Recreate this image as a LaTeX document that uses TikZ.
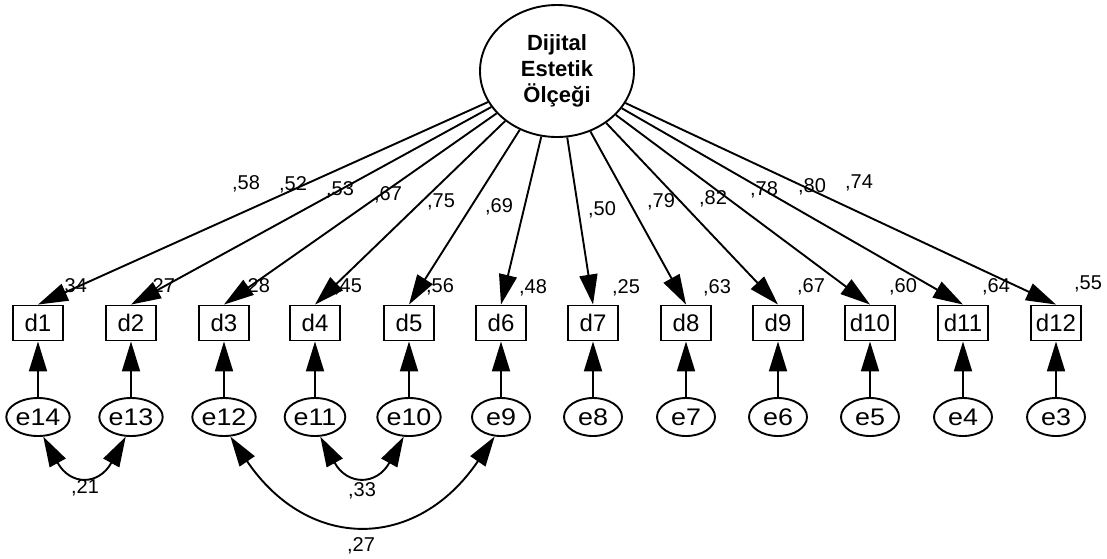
\documentclass[tikz,border=0pt]{standalone}
\usepackage{fontspec}
\setmainfont{Liberation Sans}
\usetikzlibrary{shapes.geometric,arrows.meta}
\begin{document}
\begin{tikzpicture}[x=1pt,y=-1pt,
  obs/.style={draw,line width=1.9pt,minimum width=50pt,minimum height=35pt,inner sep=3pt,font=\fontsize{24}{24}\selectfont},
  err/.style={draw,ellipse,line width=1.9pt,minimum width=58pt,minimum height=38pt,inner sep=0pt,font=\fontsize{24}{24}\selectfont},
  lat/.style={draw,ellipse,line width=1.9pt,minimum width=154pt,minimum height=132pt,inner sep=0pt,align=center,font=\fontsize{22}{26}\selectfont\bfseries},
  reg/.style={line width=1.9pt,-{Triangle[length=30pt,width=18pt]}},
  cov/.style={line width=1.9pt,{Triangle[length=30pt,width=18pt]}-{Triangle[length=30pt,width=18pt]}},
  coef/.style={font=\fontsize{20}{20}\selectfont,inner sep=0pt}
]
\useasboundingbox[fill=white] (0,0) rectangle (1107,558);

\node[lat] (lat) at (557,71) {Dijital\\Estetik\\Ölçeği};

\foreach \i/\x in {1/38,2/131,3/224,4/315,5/409,6/501,7/593,8/686,9/778,10/870,11/963,12/1056}
  \node[obs] (d\i) at (\x,323) {d\i};

\foreach \n/\x in {14/38,13/131,12/224,11/315,10/409,9/501,8/593,7/686,6/778,5/870,4/963,3/1056}
  \node[err] (e\n) at (\x,417) {\scalebox{1.12}[1]{e\n}};

% squared multiple correlations
\foreach \t/\x/\y in {34/73/287,27/161/287,28/256/287,45/348/287,56/440/287,48/533/288,25/626/288,63/717/288,67/811/287,60/903/287,64/996/287,55/1088/284}
  \node[coef] (r\t\x) at (\x,\y) {,\t};

% loadings
\node[coef] (l1) at (246,184) {,58};
\node[coef] (l2) at (293,185) {,52};
\node[coef] (l3) at (340,190) {,53};
\node[coef] (l4) at (388,195) {,67};
\node[coef] (l5) at (441,202) {,75};
\node[coef] (l6) at (499,207) {,69};
\node[coef] (l7) at (602,210) {,50};
\node[coef] (l8) at (661,202) {,79};
\node[coef] (l9) at (713,199) {,82};
\node[coef] (l10) at (764,190) {,78};
\node[coef] (l11) at (812,187) {,80};
\node[coef] (l12) at (859,183) {,74};

\foreach \i in {1,...,12}
  \draw[reg] (lat) -- (d\i.north);

\foreach \n/\i in {14/1,13/2,12/3,11/4,10/5,9/6,8/7,7/8,6/9,5/10,4/11,3/12}
  \draw[reg] (e\n) -- (d\i);

\draw[cov] (e14.-75) .. controls +(27,49) and +(-27,49) .. (e13.-105);
\draw[cov] (e11.-75) .. controls +(27,49) and +(-27,49) .. (e10.-105);
\draw[cov] (e12.-72) .. controls +(78,115) and +(-78,115) .. (e9.-108);

\node[coef] (c1) at (85,488) {,21};
\node[coef] (c2) at (362,491) {,33};
\node[coef] (c3) at (361,546) {,27};
\end{tikzpicture}
\end{document}
